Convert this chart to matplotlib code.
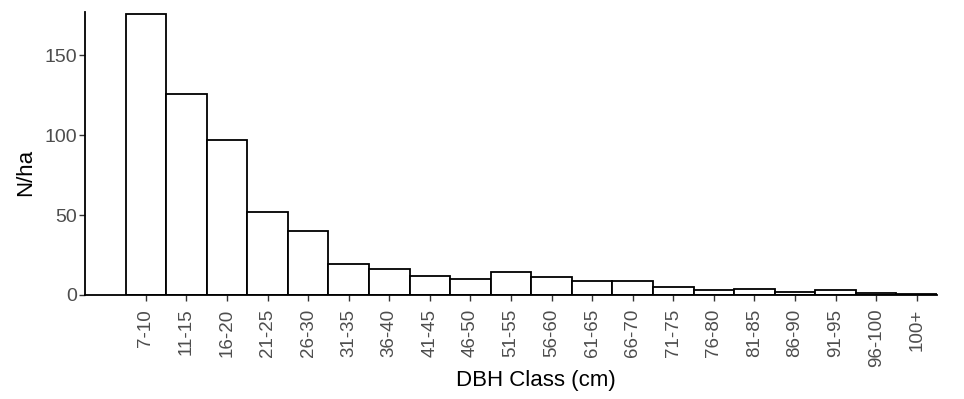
import matplotlib
matplotlib.use("Agg")
import matplotlib.pyplot as plt
import numpy as np

plt.rcParams['font.family'] = ['Liberation Sans', 'DejaVu Sans']

classes = ["7-10", "11-15", "16-20", "21-25", "26-30", "31-35", "36-40", "41-45",
           "46-50", "51-55", "56-60", "61-65", "66-70", "71-75", "76-80", "81-85",
           "86-90", "91-95", "96-100", "100+"]
n_per_ha = [176, 126, 97, 52, 40, 19.5, 16.5, 12, 10, 14.5, 11.5, 8.8, 8.8,
            4.8, 3.2, 3.5, 1.8, 2.9, 1.0, 0.9]
y_ticks = [0, 50, 100, 150]

fig = plt.figure(figsize=(9.64, 3.99), dpi=100)
ax = fig.add_axes([0.0882, 0.2607, 0.972 - 0.0882, 0.970 - 0.2607])

x = np.arange(len(classes))
ax.bar(x, n_per_ha, width=1.0, color='white', edgecolor='black', linewidth=1.3, zorder=2)

ax.set_xlim(-1.5, len(classes) - 0.5)
ax.set_ylim(0, 177)
ax.set_xticks(x)
ax.set_xticklabels(classes, rotation=90, ha='center', va='top')
ax.set_yticks(y_ticks)

for s in ['top', 'right']:
    ax.spines[s].set_visible(False)
for s in ['left', 'bottom']:
    ax.spines[s].set_linewidth(1.3)
    ax.spines[s].set_color('black')

ax.tick_params(axis='x', length=4, width=1.0, color='#333333', pad=6,
               labelsize=13.5, labelcolor='#4D4D4D')
ax.tick_params(axis='y', length=4, width=1.0, color='#333333', pad=2,
               labelsize=14, labelcolor='#4D4D4D')

ax.set_xlabel("DBH Class (cm)", fontsize=16, color='black')
ax.set_ylabel("N/ha", fontsize=16, color='black')
ax.xaxis.set_label_coords((536 - 85) / 852, -(381 - 295) / 283)
ax.yaxis.set_label_coords(-(85 - 26) / 852, (295 - 172) / 283)
ax.xaxis.label.set_va('center')
ax.yaxis.label.set_va('center')

fig.savefig("out.png", dpi=100)
